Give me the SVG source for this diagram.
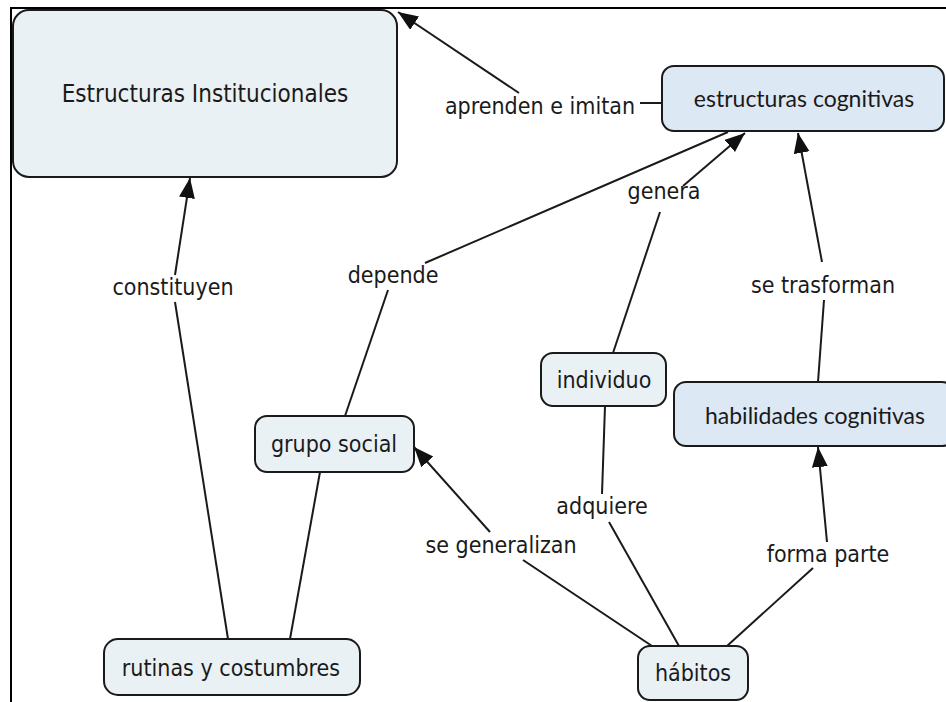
<svg xmlns="http://www.w3.org/2000/svg" width="946" height="702" viewBox="0 0 946 702">
<style>
.n{fill:#eaf1f4;stroke:#1a1a1a;stroke-width:2}
.b{fill:#dde8f5;stroke:#1a1a1a;stroke-width:2}
.t{font-family:"DejaVu Sans Condensed","DejaVu Sans",sans-serif;font-size:23px;fill:#1a1a1a;text-anchor:middle}
.c{font-family:Lato,"Open Sans",sans-serif;font-size:23px;fill:#1a1a1a;text-anchor:middle}
.l{stroke:#1a1a1a;stroke-width:2;fill:none}
.a{stroke:#1a1a1a;stroke-width:2;fill:none;marker-end:url(#ah)}
</style>
<defs>
<marker id="ah" markerUnits="userSpaceOnUse" markerWidth="22" markerHeight="18" refX="20" refY="8" orient="auto">
<path d="M0,0 L20,8 L0,16 Z" fill="#111"/>
</marker>
</defs>
<rect width="946" height="702" fill="#fff"/>
<path d="M11,702 V8 H946" fill="none" stroke="#000" stroke-width="2"/>
<g id="connectors">
<line class="l" x1="661" y1="103" x2="640" y2="103"/>
<line class="a" x1="519" y1="93" x2="398" y2="12"/>
<line class="a" x1="683" y1="186" x2="745" y2="133"/>
<line class="l" x1="660" y1="212" x2="613" y2="353"/>
<line class="l" x1="728" y1="132" x2="425" y2="263"/>
<line class="l" x1="388" y1="290" x2="345" y2="416"/>
<line class="a" x1="175" y1="275" x2="190" y2="178"/>
<line class="l" x1="175" y1="302" x2="228" y2="639"/>
<line class="l" x1="320" y1="472" x2="290" y2="639"/>
<line class="a" x1="490" y1="532" x2="414" y2="447"/>
<line class="l" x1="523" y1="560" x2="652" y2="646"/>
<line class="l" x1="605" y1="406" x2="602" y2="494"/>
<line class="l" x1="609" y1="522" x2="679" y2="646"/>
<line class="a" x1="827" y1="542" x2="818" y2="447"/>
<line class="l" x1="813" y1="568" x2="727" y2="646"/>
<line class="a" x1="822" y1="262" x2="798" y2="133"/>
<line class="l" x1="824" y1="300" x2="818" y2="382"/>
<text class="t" x="540" y="114">aprenden e imitan</text>
<text class="t" x="664" y="199">genera</text>
<text class="t" x="393" y="283">depende</text>
<text class="t" x="173" y="295">constituyen</text>
<text class="t" x="823" y="293">se trasforman</text>
<text class="t" x="602" y="514">adquiere</text>
<text class="t" x="501" y="553">se generalizan</text>
<text class="t" x="828" y="562">forma parte</text>
</g>
<g id="estructuras-institucionales">
<rect class="n" x="13" y="10" width="384" height="167" rx="16"/>
<text class="t" x="205" y="102" style="font-size:24px">Estructuras Institucionales</text>
</g>
<g id="estructuras-cognitivas">
<rect class="b" x="662" y="66" width="282" height="65" rx="12"/>
<text class="c" x="804" y="107">estructuras cognitivas</text>
</g>
<g id="individuo">
<rect class="n" x="541" y="353" width="125" height="53" rx="12"/>
<text class="t" x="604" y="388">individuo</text>
</g>
<g id="habilidades-cognitivas">
<rect class="b" x="674" y="382" width="280" height="64" rx="12"/>
<text class="c" x="815" y="424">habilidades cognitivas</text>
</g>
<g id="grupo-social">
<rect class="n" x="255" y="416" width="159" height="56" rx="12"/>
<text class="t" x="334" y="452">grupo social</text>
</g>
<g id="rutinas-y-costumbres">
<rect class="n" x="104" y="639" width="256" height="56" rx="14"/>
<text class="t" x="231" y="676">rutinas y costumbres</text>
</g>
<g id="habitos">
<rect class="n" x="638" y="646" width="110" height="54" rx="12"/>
<text class="t" x="693" y="681">hábitos</text>
</g>
</svg>
